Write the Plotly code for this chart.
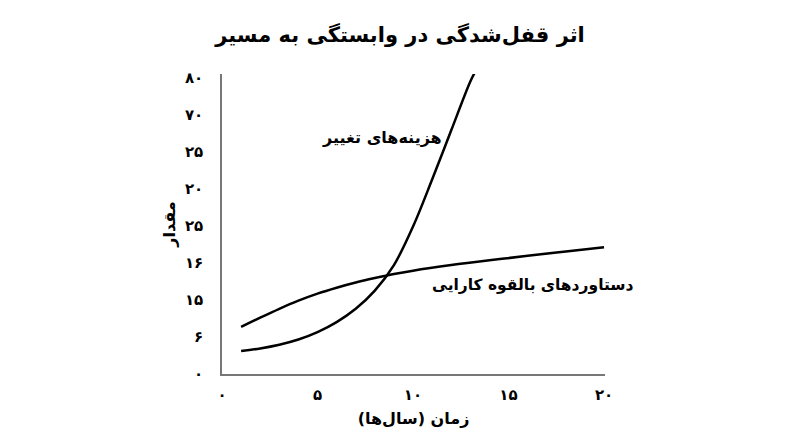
import plotly.graph_objects as go

# Data
cost_x = [1, 2, 3, 4, 5, 6, 7, 8, 9, 10, 11, 12, 13, 13.3]
cost_y = [6.2, 6.9, 7.9, 9.3, 11.3, 14.0, 17.6, 22.5, 29.4, 39.8, 52.5, 65.8, 79.0, 82.0]

gain_x = [1, 2, 3, 4, 5, 6, 7, 8, 9, 10, 12, 14, 16, 18, 20]
gain_y = [12.7, 15.2, 17.6, 19.8, 21.7, 23.3, 24.7, 25.9, 27.0, 27.9, 29.4, 30.7, 31.9, 33.1, 34.2]

y_tickvals = [0, 10, 20, 30, 40, 50, 60, 70, 80]
y_ticktext = ["۰", "۶", "۱۵", "۱۶", "۲۵", "۲۰", "۲۵", "۷۰", "۸۰"]
x_tickvals = [0, 5, 10, 15, 20]
x_ticktext = ["۰", "۵", "۱۰", "۱۵", "۲۰"]

title_text = "اثر قفل‌شدگی در وابستگی به مسیر"
x_title = "زمان (سال‌ها)"
y_title = "مقدار"
cost_label = "هزینه‌های تغییر"
gain_label = "دستاوردهای بالقوه کارایی"

FONT = "DejaVu Sans, Noto Sans, sans-serif"

fig = go.Figure()
fig.add_trace(go.Scatter(x=cost_x, y=cost_y, mode="lines",
                         line=dict(color="black", width=2.5, shape="spline", smoothing=1.0),
                         hoverinfo="skip", showlegend=False))
fig.add_trace(go.Scatter(x=gain_x, y=gain_y, mode="lines",
                         line=dict(color="black", width=2.5, shape="spline", smoothing=1.0),
                         hoverinfo="skip", showlegend=False))

fig.add_annotation(x=8.4, y=63.9, xref="x", yref="y", text="<b>" + cost_label + "</b>",
                   showarrow=False, font=dict(family=FONT, size=16, color="black"))
fig.add_annotation(x=16.3, y=24.0, xref="x", yref="y", text="<b>" + gain_label + "</b>",
                   showarrow=False, font=dict(family=FONT, size=15.5, color="black"))

fig.update_layout(
    width=800, height=447,
    paper_bgcolor="white", plot_bgcolor="white",
    margin=dict(l=222, r=195, t=74, b=73),
    title=dict(text="<b>" + title_text + "</b>", x=0.5, xanchor="center",
               y=1 - 35 / 447, yanchor="middle", yref="container",
               font=dict(family=FONT, size=21, color="black")),
    font=dict(family=FONT, color="black"),
    xaxis=dict(range=[0, 20.05], tickvals=x_tickvals, ticktext=x_ticktext,
               showgrid=False, zeroline=False, showline=True, linecolor="#777777",
               linewidth=1.5, ticks="", ticklabelstandoff=6,
               tickfont=dict(family=FONT, size=15, color="black", weight="bold"),
               title=dict(text="<b>" + x_title + "</b>", standoff=10,
                          font=dict(family=FONT, size=16, color="black"))),
    yaxis=dict(range=[0, 81], tickvals=y_tickvals, ticktext=y_ticktext,
               showgrid=False, zeroline=False, showline=True, linecolor="#777777",
               linewidth=1.5, ticks="", ticklabelstandoff=14,
               tickfont=dict(family=FONT, size=15, color="black", weight="bold"),
               title=dict(text="<b>" + y_title + "</b>", standoff=5,
                          font=dict(family=FONT, size=16, color="black"))),
)

fig.write_html("out.html", config={"displayModeBar": False},
               post_script="document.body.style.margin='0';")
